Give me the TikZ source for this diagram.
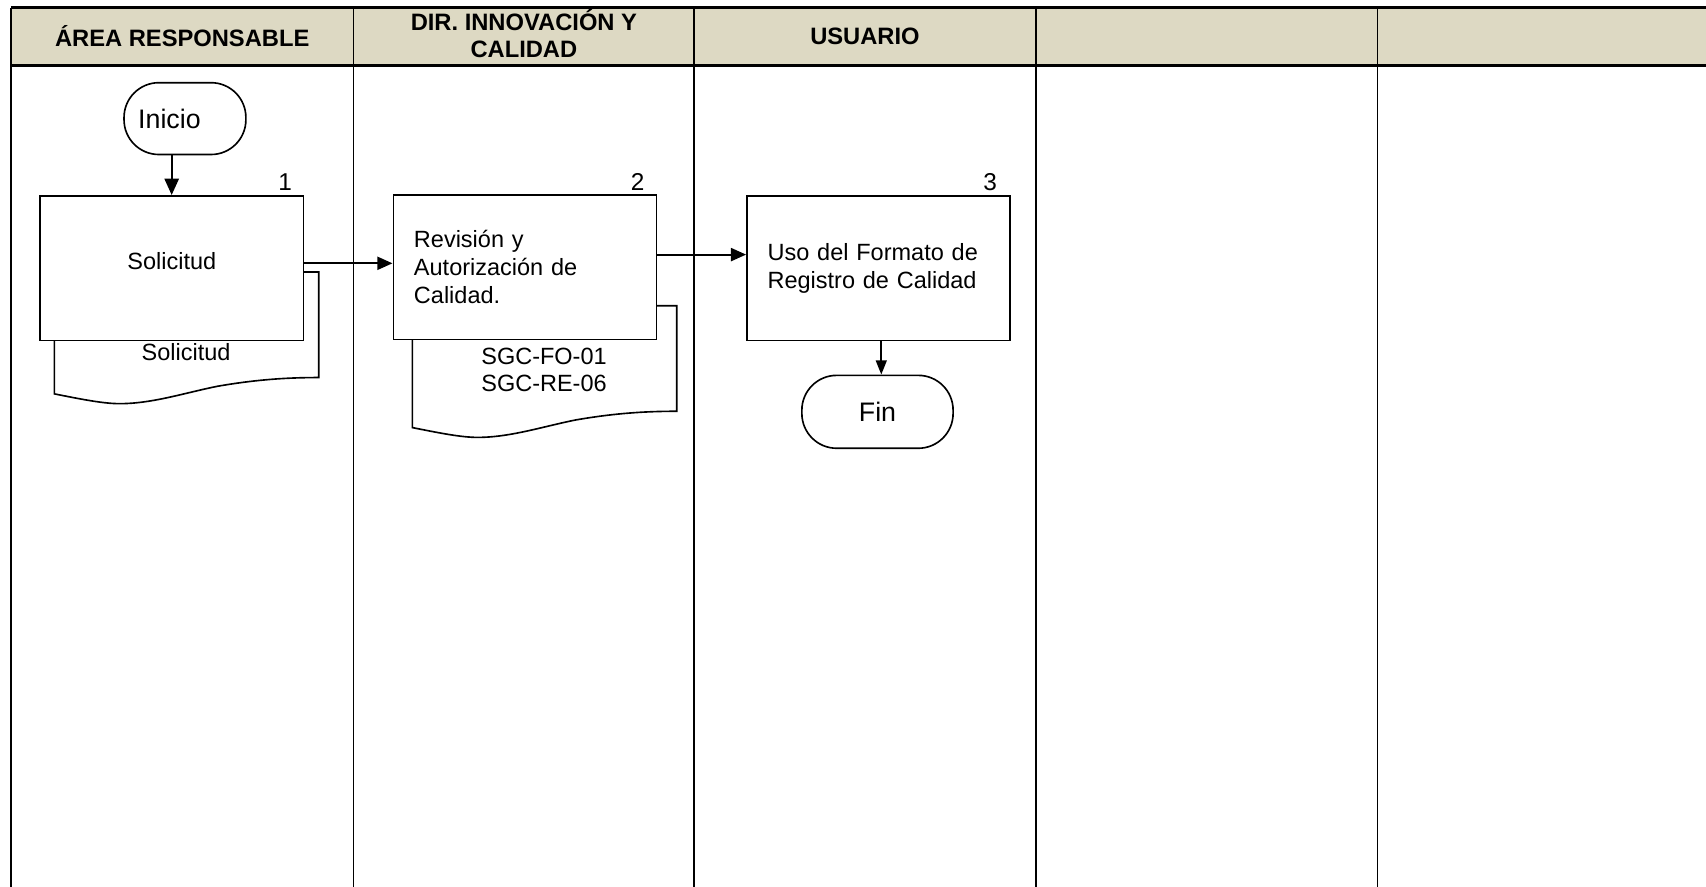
\documentclass[tikz,border=0pt]{standalone}
\usepackage{fontspec}
\setmainfont{Liberation Sans}
\usetikzlibrary{arrows.meta,calc}
\definecolor{hdr}{RGB}{221,217,195}
\begin{document}
\begin{tikzpicture}[x=0.5pt,y=-0.5pt,
  font=\fontsize{10.8}{12.8}\selectfont,
  hdrtext/.style={font=\fontsize{10.9}{12.4}\selectfont\bfseries,align=center},
  colline/.style={line width=0.7pt},
  box/.style={draw,line width=0.75pt,fill=white,minimum width=121pt,minimum height=66.5pt,inner sep=0pt},
  term/.style={draw,line width=0.75pt,fill=white,rounded corners=16pt,inner sep=0pt,font=\fontsize{12.3}{14}\selectfont},
  doc/.style={draw,line width=0.75pt,fill=white},
  arr/.style={line width=1pt,-{Triangle[length=7pt,width=6pt]}},
  num/.style={inner sep=0pt,font=\fontsize{11.2}{13}\selectfont}]
\useasboundingbox (0,0) rectangle (1568,815);
% header
\fill[hdr] (10,7) rectangle (1568,60);
\draw[line width=1.4pt] (10,7) -- (1568,7);
\draw[line width=1.3pt] (10,60) -- (1568,60);
\draw[line width=1pt] (10,7) -- (10,815);
\foreach \xx in {325,638,952,1266} \draw[colline] (\xx,7) -- (\xx,815);
\node[hdrtext] (h1) at (167.5,33) {ÁREA RESPONSABLE};
\node[hdrtext] (h2) at (481.5,31) {DIR. INNOVACIÓN Y\\CALIDAD};
\node[hdrtext] (h3) at (795,33) {USUARIO};
% documents
\draw[doc] (50,250) -- (293,250) -- (293,347)
  .. controls (270,347) and (240,348) .. (200,355)
  .. controls (170,361) and (140,371) .. (110,371)
  .. controls (95,371) and (75,367) .. (50,362) -- cycle;
\begin{scope}[shift={(329,31)}]
\draw[doc] (50,250) -- (293,250) -- (293,347)
  .. controls (270,347) and (240,348) .. (200,355)
  .. controls (170,361) and (140,371) .. (110,371)
  .. controls (95,371) and (75,367) .. (50,362) -- cycle;
\end{scope}
\node (d1) at (171,324) {Solicitud};
\node[align=center] (d2) at (500,340) {SGC-FO-01\\SGC-RE-06};
% terminals
\node[term,minimum width=56pt,minimum height=33pt,text width=43pt,inner xsep=6.5pt,align=left] (ini) at (170,109) {Inicio};
% boxes
\node[box] (b1) at (158,246.5) {};
\node (t1) at (158,240) {Solicitud};
\node[box,text width=102pt,inner xsep=9.5pt,align=left] (b2) at (482.5,245.5) {Revisión y\\Autorización de\\Calidad.};
\node[box,text width=102pt,inner xsep=9.5pt,align=left] (b3) at (807.5,246.5) {Uso del Formato de\\Registro de Calidad};
\node[term,minimum width=69.5pt,minimum height=33.5pt] (fin) at (806.5,378.5) {Fin};
% numbers
\node[num] (n1) at (262,167) {1};
\node[num] (n2) at (586,167) {2};
\node[num] (n3) at (910,167) {3};
% connectors
\coordinate (ya) at (0,242);
\coordinate (yb) at (0,234);
\coordinate (xa) at (157.8,0);
\coordinate (xb) at (810,0);
\draw[arr,-{Triangle[length=7.5pt,width=6.5pt]}] (ini.south -| xa) -- (b1.north -| xa);
\draw[arr] (b1.east |- ya) -- (b2.west |- ya);
\draw[arr] (b2.east |- yb) -- (b3.west |- yb);
\draw[line width=0.75pt,-{Triangle[length=6.5pt,width=5pt]}] (b3.south -| xb) -- (fin.north -| xb);
\end{tikzpicture}
\end{document}
